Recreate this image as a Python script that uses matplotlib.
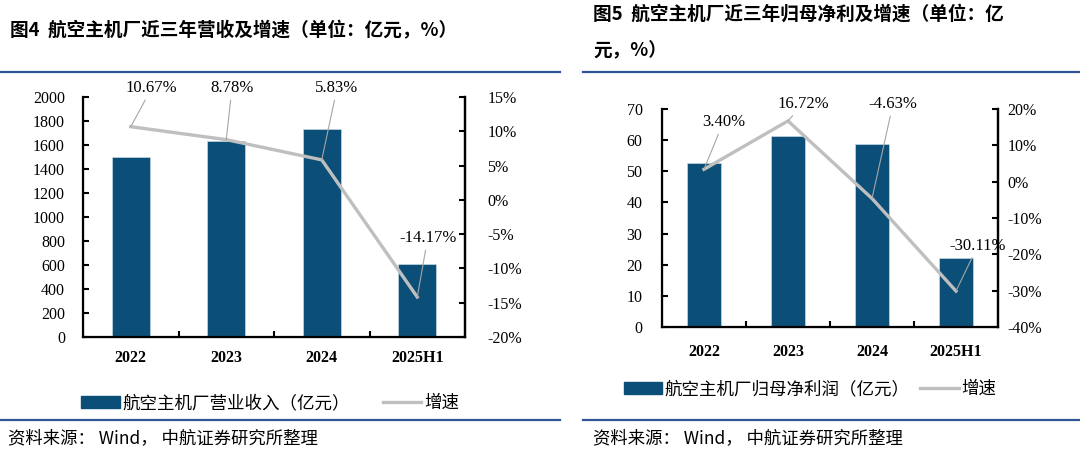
import matplotlib.pyplot as plt
from matplotlib.lines import Line2D
from matplotlib.patches import Patch

plt.rcParams['font.family'] = ['Noto Sans CJK SC', 'DejaVu Sans']

# chart data
categories = ['2022', '2023', '2024', '2025H1']
revenue = [1502, 1633, 1731, 611]
revenue_growth = [10.67, 8.78, 5.83, -14.17]
profit = [52.7, 61.4, 58.7, 22.0]
profit_growth = [3.40, 16.72, -4.63, -30.11]

title_left = '图4  航空主机厂近三年营收及增速（单位：亿元，%）'
title_right_1 = '图5  航空主机厂近三年归母净利及增速（单位：亿'
title_right_2 = '元，%）'
legend_left = '航空主机厂营业收入（亿元）'
legend_right = '航空主机厂归母净利润（亿元）'
source = '资料来源： Wind， 中航证券研究所整理'

BAR = '#0B4F78'
LINE = '#BFBFBF'
RULE = '#2F5597'
SERIF = 'Liberation Serif'

W, H = 1080, 453
fig = plt.figure(figsize=(W / 100, H / 100), dpi=100)


def px_axes(x0, y0, x1, y1):
    return fig.add_axes([x0 / W, 1 - y1 / H, (x1 - x0) / W, (y1 - y0) / H])


def rule(x0, x1, y):
    fig.add_artist(Line2D([x0 / W, x1 / W], [1 - y / H, 1 - y / H],
                          color=RULE, lw=1.6))


def draw_panel(ax, bars, growth, ymax, ystep, pmin, pmax, pstep,
               lpad, rpad, xpad, label_pos):
    x = list(range(len(categories)))
    ax.bar(x, bars, width=0.4, color=BAR, edgecolor='#D6E4EE', lw=0.4, zorder=2)
    ax.set_xlim(-0.5, len(categories) - 0.5)
    ax.set_ylim(0, ymax)
    ax.set_yticks(range(0, ymax + 1, ystep))
    ax.set_xticks([i + 0.5 for i in x[:-1]])
    ax.set_xticklabels([])
    ax.set_xticks(x, minor=True)
    ax.set_xticklabels(categories, minor=True, fontfamily=SERIF,
                       fontweight='bold', fontsize=11.5)
    ax.tick_params(axis='x', which='minor', length=0, pad=xpad)
    ax.tick_params(axis='x', which='major', direction='in', length=4, width=1.5)
    ax.tick_params(axis='y', direction='in', length=4, width=1.5, pad=lpad,
                   labelsize=11.5)
    for lab in ax.get_yticklabels():
        lab.set_fontfamily(SERIF)
    ax.spines['top'].set_visible(False)
    for s in ('left', 'bottom', 'right'):
        ax.spines[s].set_linewidth(1.6)

    ax2 = ax.twinx()
    ax2.plot(x, growth, color=LINE, lw=2.4, zorder=3)
    ax2.set_ylim(pmin, pmax)
    ax2.set_yticks(range(pmin, pmax + 1, pstep))
    ax2.set_yticklabels([f'{t}%' for t in range(pmin, pmax + 1, pstep)],
                        fontfamily=SERIF, fontsize=11.5)
    ax2.tick_params(axis='y', direction='in', length=4, width=1.5, pad=rpad)
    ax2.spines['top'].set_visible(False)
    ax2.spines['right'].set_linewidth(1.6)
    for i, (g, pos) in enumerate(zip(growth, label_pos)):
        ax2.annotate(f'{g:.2f}%', xy=(i, g), xytext=pos, textcoords='data',
                     ha='center', va='center', fontfamily=SERIF, fontsize=12,
                     annotation_clip=False,
                     arrowprops=dict(arrowstyle='-', color='#A6A6A6', lw=0.8,
                                     shrinkA=1, shrinkB=0))


# left panel
axL = px_axes(83, 97, 465, 337)
draw_panel(axL, revenue, revenue_growth, 2000, 200, -20, 15, 5,
           lpad=13, rpad=16, xpad=9,
           label_pos=[(0.22, 16.3), (1.06, 16.3), (2.16, 16.3), (3.11, -5.56)])

# right panel
axR = px_axes(662, 109, 998, 327)
draw_panel(axR, profit, profit_growth, 70, 10, -40, 20, 10,
           lpad=14, rpad=7, xpad=12,
           label_pos=[(0.23, 16.4), (1.18, 21.4), (2.25, 21.4), (3.26, -17.6)])

# titles
fig.text(10 / W, 1 - 31 / H, title_left, fontsize=13.4, fontweight='bold',
         va='center', ha='left')
fig.text(593 / W, 1 - 14 / H, title_right_1, fontsize=13.4, fontweight='bold',
         va='center', ha='left')
fig.text(593 / W, 1 - 51 / H, title_right_2, fontsize=13.4, fontweight='bold',
         va='center', ha='left')

# horizontal rules
rule(0, 560, 72)
rule(583, 1080, 72)
rule(0, 560, 420)
rule(583, 1080, 420)

# legends
for name, cx, cy, gap in ((legend_left, 270, 403, 1.9), (legend_right, 810, 389, 0.6)):
    handles = [Patch(facecolor=BAR, edgecolor=BAR, label=name),
               Line2D([], [], color=LINE, lw=2.4, label='增速')]
    fig.legend(handles=handles, loc='center', bbox_to_anchor=(cx / W, 1 - cy / H),
               ncol=2, frameon=False, fontsize=12.6, handlelength=2.2,
               handleheight=0.7, handletextpad=0.15, columnspacing=gap)

# sources
fig.text(8 / W, 1 - 438 / H, source, fontsize=12.5, va='center', ha='left')
fig.text(593 / W, 1 - 438 / H, source, fontsize=12.5, va='center', ha='left')

fig.savefig('out.png', dpi=100)
